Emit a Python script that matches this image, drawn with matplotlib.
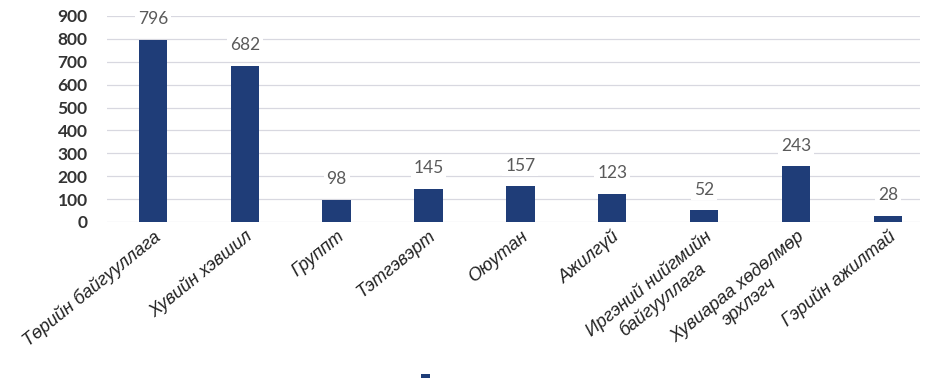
import matplotlib
matplotlib.use("Agg")
import matplotlib.pyplot as plt
from matplotlib.patches import Patch

categories = ["Төрийн байгууллага", "Хувийн хэвшил", "Группт", "Тэтгэвэрт", "Оюутан",
              "Ажилгүй", "Иргэний нийгмийн\nбайгууллага", "Хувиараа хөдөлмөр\nэрхлэгч", "Гэрийн ажилтай"]
values = [796, 682, 98, 145, 157, 123, 52, 243, 28]
y_ticks = [0, 100, 200, 300, 400, 500, 600, 700, 800, 900]

bar_color = "#1f3d78"

fig = plt.figure(figsize=(9.28, 3.78), dpi=100)
ax = fig.add_axes([107/928, (378-222)/378, (920-107)/928, (222-16)/378])

x = list(range(len(categories)))
bars = ax.bar(x, values, width=0.31, color=bar_color, zorder=3)

for xi, v in zip(x, values):
    ax.annotate(str(v), (xi, v), xytext=(0, 9), textcoords="offset points",
                ha="center", va="bottom", fontsize=12.5, color="#5a5a5a",
                family="Lato", zorder=4,
                bbox=dict(facecolor="white", edgecolor="none", pad=2))

ax.set_ylim(0, 900)
ax.set_xlim(-0.5, 8.35)
ax.set_yticks(y_ticks)
ax.set_yticklabels([str(t) for t in y_ticks], fontsize=12.5, fontweight="bold",
                   color="#333333", family="Lato")
ax.set_xticks(x)
ax.set_xticklabels(categories, rotation=39, ha="right", rotation_mode="anchor",
                   multialignment="center",
                   fontsize=13, color="#222222", family="Liberation Sans", style="italic")
ax.tick_params(axis="both", length=0, pad=4)
ax.tick_params(axis="y", pad=14)
ax.grid(axis="y", color="#d8d8e0", linewidth=0.9, zorder=0)
for s in ax.spines.values():
    s.set_visible(False)

fig.legend(handles=[Patch(facecolor=bar_color)], labels=[""], loc="lower center",
           bbox_to_anchor=(431/928, -0.07), frameon=False, handlelength=0.6,
           handleheight=1.6)

fig.savefig("out.png", dpi=100)
